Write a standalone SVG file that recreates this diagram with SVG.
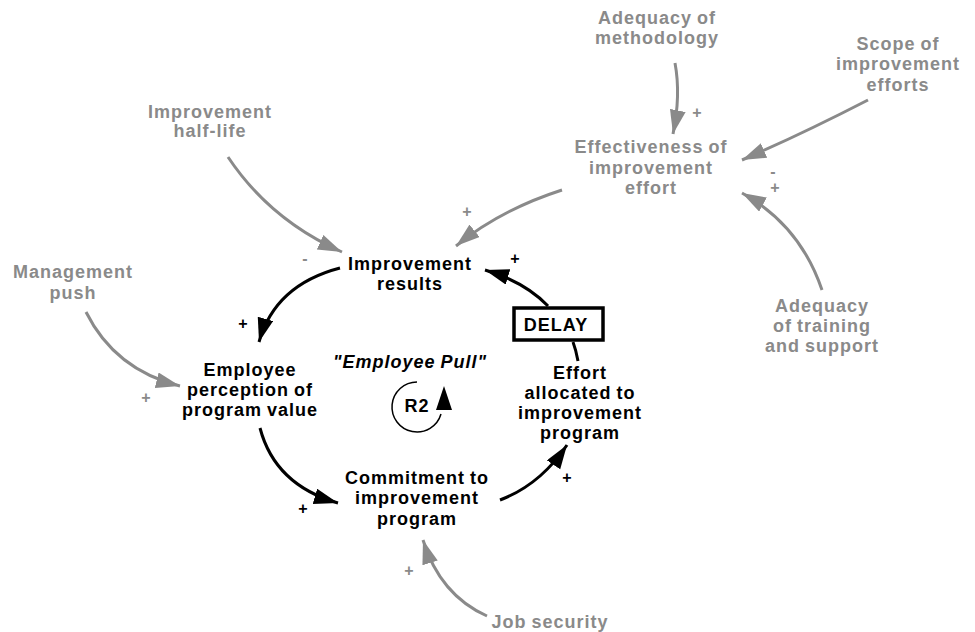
<svg xmlns="http://www.w3.org/2000/svg" width="975" height="632" viewBox="0 0 975 632">
<style>
text{font-family:"Liberation Sans",Arial,sans-serif;font-weight:bold;font-size:18px;letter-spacing:1px;word-spacing:-1px;text-anchor:middle}
.g{fill:#8a8a8a}
.k{fill:#000}
.lg{fill:none;stroke:#8a8a8a;stroke-width:3;marker-end:url(#ag)}
.lk{fill:none;stroke:#000;stroke-width:3;marker-end:url(#ak)}
.s{font-size:16px;letter-spacing:0}
</style>
<defs>
<marker id="ag" markerUnits="userSpaceOnUse" markerWidth="26" markerHeight="18" refX="24" refY="8" orient="auto"><path d="M0,0 L24,8 L0,16 z" fill="#8a8a8a"/></marker>
<marker id="ak" markerUnits="userSpaceOnUse" markerWidth="26" markerHeight="18" refX="24" refY="8" orient="auto"><path d="M0,0 L24,8 L0,16 z" fill="#000"/></marker>
</defs>
<rect width="975" height="632" fill="#fff"/>
<g id="connectors">
<path class="lg" d="M675,63 Q681,95 673,134"/>
<path class="lg" d="M868,100 Q800,135 742,160"/>
<path class="lg" d="M822,290 Q800,225 742,193"/>
<path class="lg" d="M562,190 Q500,210 456,246"/>
<path class="lg" d="M228,157 Q270,220 342,252"/>
<path class="lk" d="M340,268 Q275,285 259,342"/>
<path class="lg" d="M86,312 Q115,370 180,386"/>
<path class="lk" d="M260,428 Q275,485 338,503"/>
<path class="lk" d="M500,500 Q540,485 567,445"/>
<path fill="none" stroke="#000" stroke-width="3" d="M578,361 Q576,350 573,342"/>
<path class="lk" d="M548,306 Q525,282 485,270"/>
<path class="lg" d="M487,616 Q440,595 423,540"/>
<text class="g s" x="697" y="118">+</text>
<text class="g s" x="773" y="177">-</text>
<text class="g s" x="775" y="193">+</text>
<text class="g s" x="467" y="217">+</text>
<text class="g s" x="305" y="264">-</text>
<text class="k s" x="243" y="329">+</text>
<text class="g s" x="146" y="403">+</text>
<text class="k s" x="303" y="514">+</text>
<text class="k s" x="567" y="483">+</text>
<text class="k s" x="515" y="264">+</text>
<text class="g s" x="409" y="576">+</text>
</g>
<g id="adequacy-methodology"><text class="g" x="657" y="24">Adequacy of</text><text class="g" x="657" y="44">methodology</text></g>
<g id="scope"><text class="g" x="898" y="50">Scope of</text><text class="g" x="898" y="70">improvement</text><text class="g" x="898" y="91">efforts</text></g>
<g id="effectiveness"><text class="g" x="651" y="153">Effectiveness of</text><text class="g" x="651" y="174">improvement</text><text class="g" x="651" y="194">effort</text></g>
<g id="half-life"><text class="g" x="210" y="118">Improvement</text><text class="g" x="210" y="137">half-life</text></g>
<g id="results"><text class="k" x="410" y="270">Improvement</text><text class="k" x="410" y="290">results</text></g>
<g id="management-push"><text class="g" x="73" y="278">Management</text><text class="g" x="73" y="299">push</text></g>
<g id="perception"><text class="k" x="250" y="376">Employee</text><text class="k" x="250" y="396">perception of</text><text class="k" x="250" y="416">program value</text></g>
<g id="loop"><text class="k" x="410" y="368" font-style="italic" letter-spacing="0.3">"Employee Pull"</text><text class="k" x="417" y="412" letter-spacing="0">R2</text>
<path d="M417,382 A25,25 0 1 0 441,414" fill="none" stroke="#000" stroke-width="1.5"/>
<polygon points="436,410 452,410 444,386" fill="#000"/></g>
<g id="effort"><text class="k" x="580" y="379">Effort</text><text class="k" x="580" y="399">allocated to</text><text class="k" x="580" y="419">improvement</text><text class="k" x="580" y="439">program</text></g>
<g id="delay"><rect x="514" y="308" width="89" height="32" fill="#fff" stroke="#000" stroke-width="3.5"/><text class="k" x="556" y="331">DELAY</text></g>
<g id="commitment"><text class="k" x="417" y="484">Commitment to</text><text class="k" x="417" y="504">improvement</text><text class="k" x="417" y="525">program</text></g>
<g id="job-security"><text class="g" x="550" y="628">Job security</text></g>
<g id="training"><text class="g" x="822" y="312">Adequacy</text><text class="g" x="822" y="332">of training</text><text class="g" x="822" y="352">and support</text></g>
</svg>
